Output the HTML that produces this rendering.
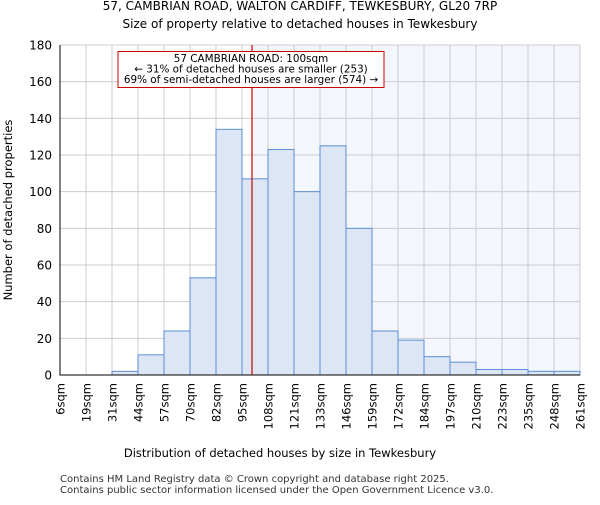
<!DOCTYPE html>
<html><head><meta charset="utf-8"><style>body{margin:0;background:#fff}svg{font-family:"DejaVu Sans","Liberation Sans",sans-serif}</style></head>
<body>
<svg id="c" width="600" height="500">
<text x="300" y="10" text-anchor="middle" font-size="12">57, CAMBRIAN ROAD, WALTON CARDIFF, TEWKESBURY, GL20 7RP</text>
<text x="300" y="28" text-anchor="middle" font-size="12">Size of property relative to detached houses in Tewkesbury</text>
<g id="g"></g>
<text x="280" y="457" text-anchor="middle" font-size="11.5">Distribution of detached houses by size in Tewkesbury</text>
<text transform="translate(12,210) rotate(-90)" text-anchor="middle" font-size="11.5">Number of detached properties</text>
<text x="60" y="482" font-size="10" fill="#333">Contains HM Land Registry data © Crown copyright and database right 2025.</text>
<text x="60" y="493" font-size="10" fill="#333">Contains public sector information licensed under the Open Government Licence v3.0.</text>
</svg>
<script>
const binLabels=["6sqm","19sqm","31sqm","44sqm","57sqm","70sqm","82sqm","95sqm","108sqm","121sqm","133sqm","146sqm","159sqm","172sqm","184sqm","197sqm","210sqm","223sqm","235sqm","248sqm","261sqm"];
const binEdges=[6,19,31,44,57,70,82,95,108,121,133,146,159,172,184,197,210,223,235,248,261];
const counts=[0,0,2,11,24,53,134,107,123,100,125,80,24,19,10,7,3,3,2,2];
const yTicks=[0,20,40,60,80,100,120,140,160,180];
const propertySize=100;
const NS="http://www.w3.org/2000/svg",g=document.getElementById('g');
const L=60,R=580,T=45,B=375,n=counts.length,bw=(R-L)/n;
const y=v=>B-(v/180)*(B-T);
const xi=i=>L+i*bw;
function xv(v){for(let i=0;i<n;i++){if(v>=binEdges[i]&&v<=binEdges[i+1])return xi(i)+(v-binEdges[i])/(binEdges[i+1]-binEdges[i])*bw;}return R;}
function mk(t,a){const e=document.createElementNS(NS,t);for(const k in a)e.setAttribute(k,a[k]);g.appendChild(e);return e;}
const px=xv(propertySize);
let e=mk('rect',{x:px,y:T,width:R-px,height:B-T,fill:'#f3f6fd'});


yTicks.forEach(t=>{let l=mk('line',{x1:L,x2:R,y1:y(t),y2:y(t),stroke:'#ccc'});


let tx=mk('text',{x:L-8,y:y(t)+4.5,'text-anchor':'end','font-size':'12'});tx.textContent=t;

});
binLabels.forEach((s,i)=>{let l=mk('line',{x1:xi(i),x2:xi(i),y1:T,y2:B,stroke:'#ccc'});


let tx=mk('text',{transform:`translate(${xi(i)+4.5},${B+8}) rotate(-90)`,'text-anchor':'end','font-size':'11.5'});tx.textContent=s;

});
counts.forEach((c,i)=>{if(c<=0)return;let r=mk('rect',{x:xi(i),y:y(c),width:bw,height:B-y(c),fill:'#dce6f4',stroke:'#5b8fd6','stroke-width':1});

});
let ax=mk('path',{d:`M${L},${T}V${B}H${R}`,fill:'none',stroke:'#000','stroke-width':1});


let pl=mk('line',{x1:px,x2:px,y1:T,y2:B,stroke:'#cc0000','stroke-width':1.2});


let bx=mk('rect',{x:118,y:51.5,width:266,height:36,fill:'#fff',stroke:'#cc0000','stroke-width':1});


["57 CAMBRIAN ROAD: 100sqm","← 31% of detached houses are smaller (253)","69% of semi-detached houses are larger (574) →"].forEach((s,i)=>{let t=mk('text',{x:251,y:62+i*10.5,'text-anchor':'middle','font-size':'10.4'});t.textContent=s;

});
</script>
</body></html>
